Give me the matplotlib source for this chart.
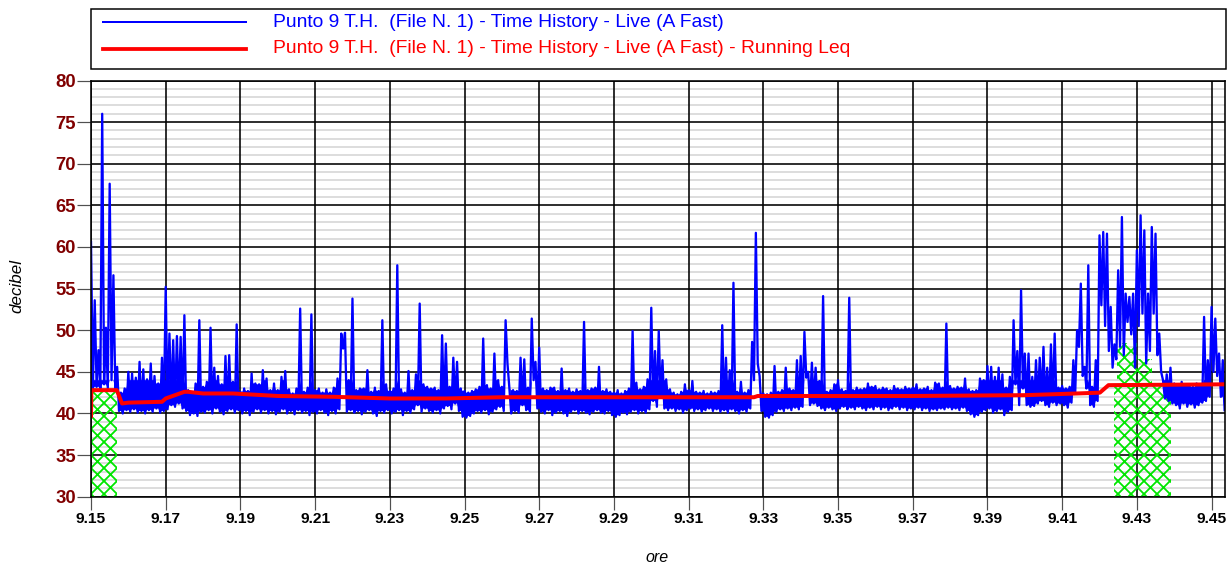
import numpy as np
import matplotlib
matplotlib.use("Agg")
import matplotlib.pyplot as plt
from matplotlib.patches import Rectangle
from matplotlib.lines import Line2D
from matplotlib.ticker import FixedLocator

# ---------------- data ----------------
t_start = 9.150          # first sample (hours)
t_step = 0.001           # sample spacing; each sample holds a max then a min

# per-sample maximum (dB) of the live A-Fast time history
th_max = [
    60.6, 53.6, 47.6, 76.0, 50.3, 67.6, 56.6, 45.6, 42.5, 43.0,
    45.0, 44.8, 44.3, 46.2, 45.3, 44.1, 46.0, 44.5, 43.6, 46.7,
    55.2, 49.6, 48.8, 49.3, 49.2, 51.8, 42.8, 42.4, 43.6, 51.2,
    43.2, 43.8, 50.3, 45.5, 44.5, 43.5, 46.9, 47.0, 43.8, 50.7,
    42.6, 43.0, 42.7, 44.8, 43.6, 43.5, 45.2, 44.2, 42.8, 43.6,
    42.8, 44.4, 45.1, 42.9, 42.4, 43.0, 52.6, 42.6, 43.1, 51.9,
    42.8, 43.0, 42.5, 42.9, 42.5, 43.1, 44.2, 49.6, 49.7, 44.0,
    53.8, 42.8, 43.0, 43.0, 45.2, 42.6, 43.1, 42.7, 51.2, 43.5,
    42.7, 43.0, 57.8, 42.9, 42.5, 45.1, 42.8, 44.7, 53.2, 43.5,
    43.2, 43.0, 43.1, 42.8, 49.4, 48.4, 43.2, 46.7, 46.2, 43.0,
    42.7, 42.5, 42.7, 42.9, 43.2, 49.0, 43.4, 43.0, 47.2, 44.0,
    43.2, 51.2, 43.1, 42.8, 42.7, 46.7, 46.5, 43.1, 51.4, 46.2,
    47.9, 43.0, 42.8, 43.1, 43.1, 42.7, 45.4, 42.8, 43.0, 42.6,
    42.9, 42.7, 51.0, 42.8, 43.0, 43.1, 45.6, 42.7, 42.9, 42.6,
    42.5, 42.8, 42.4, 42.7, 43.0, 49.9, 43.7, 42.9, 43.2, 44.1,
    52.7, 47.5, 49.9, 46.4, 44.1, 42.9, 42.5, 42.3, 42.6, 43.5,
    42.8, 43.9, 42.6, 42.5, 42.7, 42.4, 42.6, 42.5, 42.7, 50.6,
    46.7, 45.2, 55.7, 42.6, 43.8, 42.5, 42.8, 48.6, 61.7, 44.5,
    42.4, 42.3, 42.5, 45.7, 42.6, 42.8, 45.5, 43.0, 42.8, 46.4,
    46.9, 49.8, 45.0, 46.1, 45.5, 43.9, 54.1, 42.6, 42.8, 43.5,
    44.0, 42.9, 42.7, 53.9, 42.8, 43.1, 42.9, 43.0, 43.6, 43.2,
    43.3, 42.9, 43.1, 43.0, 42.8, 43.3, 43.0, 42.9, 43.2, 43.0,
    43.1, 43.5, 42.9, 43.0, 43.2, 42.8, 43.7, 43.6, 43.1, 50.8,
    43.3, 43.0, 43.2, 43.1, 44.2, 42.9, 42.7, 42.8, 44.2, 44.0,
    45.7, 45.6, 44.4, 45.5, 44.7, 43.1, 44.4, 51.2, 47.5, 54.8,
    47.2, 47.2, 44.4, 46.4, 46.7, 48.0, 45.5, 48.3, 49.6, 43.1,
    43.3, 43.0, 43.2, 46.4, 50.0, 55.6, 45.6, 57.8, 43.2, 46.4,
    61.4, 61.8, 61.6, 52.8, 48.3, 57.2, 63.6, 54.4, 54.0, 54.4,
    59.6, 63.8, 62.0, 54.4, 62.4, 61.6, 49.6, 44.0, 44.7, 45.5,
    43.6, 43.3, 43.8, 43.4, 43.5, 43.2, 43.6, 43.4, 51.6, 46.4,
    52.8, 51.4, 47.2, 46.4,
]

# per-sample minimum (dB)
th_min = [
    43.0, 43.2, 43.0, 43.5, 43.0, 44.0, 43.0, 40.3, 40.0, 40.4,
    40.2, 40.5, 40.1, 40.3, 40.0, 40.4, 40.2, 40.6, 40.1, 40.3,
    40.5, 41.0, 40.8, 41.2, 40.6, 40.3, 39.8, 40.0, 39.7, 40.2,
    40.1, 40.4, 40.0, 40.6, 40.2, 39.9, 40.3, 40.5, 40.1, 40.4,
    40.0, 40.3, 39.8, 40.2, 40.5, 40.1, 40.4, 40.0, 40.3, 39.9,
    40.2, 40.5, 40.0, 40.3, 39.9, 40.4, 40.1, 40.3, 39.8, 40.2,
    40.0, 40.4, 40.1, 39.8, 40.3, 40.0, 40.5, 47.8, 40.2, 40.4,
    40.1, 40.3, 39.9, 40.2, 40.4, 40.0, 39.7, 40.3, 40.1, 40.4,
    40.0, 40.2, 40.4, 39.8, 40.3, 40.1, 40.5, 41.0, 40.2, 40.6,
    40.3, 40.1, 40.4, 40.0, 40.6, 40.9, 40.5, 41.2, 40.3, 39.6,
    39.5, 39.7, 40.0, 40.3, 40.1, 40.4, 39.9, 40.2, 40.5, 40.8,
    40.3, 46.0, 40.0, 40.3, 40.1, 41.0, 40.4, 40.2, 44.0, 40.6,
    40.2, 40.0, 40.4, 39.8, 40.1, 40.3, 40.0, 39.7, 40.2, 40.4,
    40.0, 40.3, 40.1, 39.9, 40.2, 40.4, 40.1, 40.0, 40.3, 39.8,
    39.6, 39.8, 40.1, 39.9, 40.2, 40.4, 40.0, 40.3, 40.1, 40.5,
    41.5, 40.8, 42.0, 40.6, 40.4, 40.6, 40.3, 40.5, 40.1, 40.4,
    40.6, 40.3, 40.5, 40.2, 40.4, 40.6, 40.3, 40.5, 40.2, 40.4,
    40.1, 40.5, 40.3, 40.0, 40.4, 40.2, 40.6, 44.0, 46.0, 40.3,
    39.6, 39.5, 39.8, 40.2, 40.5, 40.3, 40.6, 40.4, 40.7, 40.5,
    40.8, 44.3, 41.0, 41.2, 40.9, 40.6, 40.4, 40.7, 40.5, 40.3,
    40.6, 40.8, 40.5, 40.7, 40.5, 40.8, 40.6, 40.4, 40.7, 40.5,
    40.8, 40.5, 40.7, 40.4, 40.6, 40.8, 40.5, 40.7, 40.4, 40.6,
    40.5, 40.7, 40.4, 40.6, 40.3, 40.5, 40.4, 40.6, 40.5, 40.7,
    40.5, 40.6, 40.4, 40.7, 40.3, 39.9, 39.6, 39.8, 40.2, 40.4,
    40.6, 40.1, 40.3, 40.5, 39.8, 40.2, 40.4, 43.5, 41.0, 43.0,
    41.0, 40.8, 40.9, 41.2, 41.5, 41.0, 40.8, 41.3, 41.0, 41.2,
    41.0, 40.7, 41.3, 42.5, 48.0, 44.5, 43.0, 41.0, 40.8, 41.5,
    53.0, 50.5, 47.5, 45.5, 46.5, 48.0, 47.0, 51.0, 49.5, 45.5,
    50.5, 52.0, 46.0, 47.5, 52.0, 47.0, 45.0, 41.8, 41.5, 41.2,
    41.0, 40.6, 41.2, 40.8, 41.1, 40.7, 41.0, 41.3, 41.5, 42.0,
    45.0, 44.5, 42.0, 40.4,
]

# running Leq
leq_t = [9.1500, 9.1501, 9.1569, 9.1583, 9.1600, 9.1690, 9.1700, 9.1750,
         9.1760, 9.1800, 9.1880, 9.2000, 9.2150, 9.2300, 9.2450, 9.2600,
         9.3000, 9.3275, 9.3285, 9.3700, 9.4000, 9.4139, 9.4201, 9.4224,
         9.4536]
leq_db = [39.7, 42.8, 42.8, 41.2, 41.3, 41.4, 41.8, 42.6,
          42.6, 42.4, 42.4, 42.1, 42.0, 41.8, 41.8, 41.95,
          41.95, 41.95, 42.1, 42.1, 42.2, 42.4, 42.5, 43.4,
          43.5]

# masked (hatched) intervals: start, end, bottom, top level
mask_start = [9.1500, 9.4239, 9.4247, 9.4300]
mask_end = [9.1569, 9.4391, 9.4300, 9.4341]
mask_bottom = [30.0, 30.0, 43.5, 43.5]
mask_top = [42.8, 43.5, 48.5, 46.5]

x_ticks = [9.15, 9.17, 9.19, 9.21, 9.23, 9.25, 9.27, 9.29,
           9.31, 9.33, 9.35, 9.37, 9.39, 9.41, 9.43, 9.45]
x_tick_labels = ["9.15", "9.17", "9.19", "9.21", "9.23", "9.25", "9.27", "9.29",
                 "9.31", "9.33", "9.35", "9.37", "9.39", "9.41", "9.43", "9.45"]
y_ticks = [30, 35, 40, 45, 50, 55, 60, 65, 70, 75, 80]
y_tick_labels = ["30", "35", "40", "45", "50", "55", "60", "65", "70", "75", "80"]

legend_labels = ["Punto 9 T.H.  (File N. 1) - Time History - Live (A Fast)",
                 "Punto 9 T.H.  (File N. 1) - Time History - Live (A Fast) - Running Leq"]

# ---------------- figure ----------------
DPI = 78
W, H = 1229, 565


def pt(pixels):
    return pixels * 72.0 / DPI


plt.rcParams['font.family'] = ['Liberation Sans', 'DejaVu Sans']
plt.rcParams['hatch.linewidth'] = pt(1.8)
plt.rcParams['hatch.color'] = '#00e600'

fig = plt.figure(figsize=(W / DPI, H / DPI), dpi=DPI)
fig.patch.set_facecolor('white')

ax_l, ax_r, ax_t, ax_b = 91, 1225, 80.5, 496.7
ax = fig.add_axes([ax_l / W, 1 - ax_b / H, (ax_r - ax_l) / W, (ax_b - ax_t) / H])

hi = np.asarray(th_max, dtype=float)
lo = np.asarray(th_min, dtype=float)
n = len(hi)
t_max = t_start + t_step * np.arange(n)
t_min = t_max + t_step / 2
t_series = np.empty(2 * n)
v_series = np.empty(2 * n)
t_series[0::2] = t_max
t_series[1::2] = t_min
v_series[0::2] = hi
v_series[1::2] = lo

# envelope of the densely-sampled noise floor (the trace is too dense to show gaps)
lo_prev = np.concatenate([[lo[0]], lo[:-1]])
hi_next = np.concatenate([hi[1:], [hi[-1]]])
env_lo = np.empty(2 * n)
env_hi = np.empty(2 * n)
env_lo[0::2] = np.maximum(lo_prev, lo)
env_lo[1::2] = lo
env_hi[0::2] = hi
env_hi[1::2] = np.minimum(hi, hi_next)
env_hi = np.minimum(env_hi, 44.0)

ax.set_xlim(9.15, 9.4536)
ax.set_ylim(30, 80)

# grid (minor grey below, major black above)
minor_y = [v for v in range(30, 81) if v % 5 != 0]
for v in minor_y:
    ax.axhline(v, color='#d2d2d2', lw=pt(1.5), zorder=0.5)
for v in y_ticks:
    ax.axhline(v, color='black', lw=pt(1.6), zorder=0.7)
for v in x_ticks:
    ax.axvline(v, color='black', lw=pt(1.6), zorder=0.7)

# hatched masks
for s, e, b, tp in zip(mask_start, mask_end, mask_bottom, mask_top):
    ax.fill_between([s, e], [b, b], [tp, tp], facecolor='none',
                    edgecolor='#00e600', hatch='xx', linewidth=0, zorder=1.5)

ax.fill_between(t_series, env_lo, env_hi, where=env_hi > env_lo,
                color='#0000ff', linewidth=0, zorder=2.9, interpolate=True)
ax.plot(t_series, v_series, color='#0000ff', lw=pt(2.3), zorder=3)
ax.plot(leq_t, leq_db, color='#ff0000', lw=pt(4.0), zorder=4)

ax.xaxis.set_major_locator(FixedLocator(x_ticks))
ax.set_xticklabels(x_tick_labels, fontweight='bold', fontsize=pt(15.5), color='black')
ax.yaxis.set_major_locator(FixedLocator(y_ticks))
ax.set_yticklabels(y_tick_labels, fontweight='bold', fontsize=pt(18.5), color='#800000')

ax.tick_params(axis='x', which='major', length=pt(13), width=pt(1.2),
               color='#505050', pad=pt(2))
ax.tick_params(axis='y', which='major', length=pt(14), width=pt(1.2),
               color='#505050', pad=pt(1))

for sp in ax.spines.values():
    sp.set_color('black')
    sp.set_linewidth(pt(1.6))
    sp.set_zorder(5)

# axis titles
fig.text(17 / W, 1 - 286 / H, 'decibel', rotation=90, ha='center', va='center',
         fontsize=pt(17), fontstyle='italic', color='black')
fig.text(657 / W, 1 - 562 / H, 'ore', ha='center', va='baseline',
         fontsize=pt(16), fontstyle='italic', color='black')

# legend box
fig.add_artist(Rectangle((91 / W, 1 - 69.3 / H), (1226 - 91) / W, (69.3 - 9) / H,
                         transform=fig.transFigure, facecolor='white',
                         edgecolor='black', lw=pt(1.5)))
legend_colors = ['#0000ff', '#ff0000']
legend_lw = [2.0, 3.8]
legend_line_y = [22.3, 49.0]
legend_text_y = [26.7, 53.4]
for lab, col, lw, ly, ty in zip(legend_labels, legend_colors, legend_lw,
                                legend_line_y, legend_text_y):
    fig.add_artist(Line2D([103 / W, 246 / W], [1 - ly / H, 1 - ly / H],
                          transform=fig.transFigure, color=col, lw=pt(lw)))
    fig.text(273 / W, 1 - ty / H, lab, ha='left', va='baseline',
             fontsize=pt(19.2), color=col)

fig.savefig('out.png', dpi=DPI, facecolor='white')
